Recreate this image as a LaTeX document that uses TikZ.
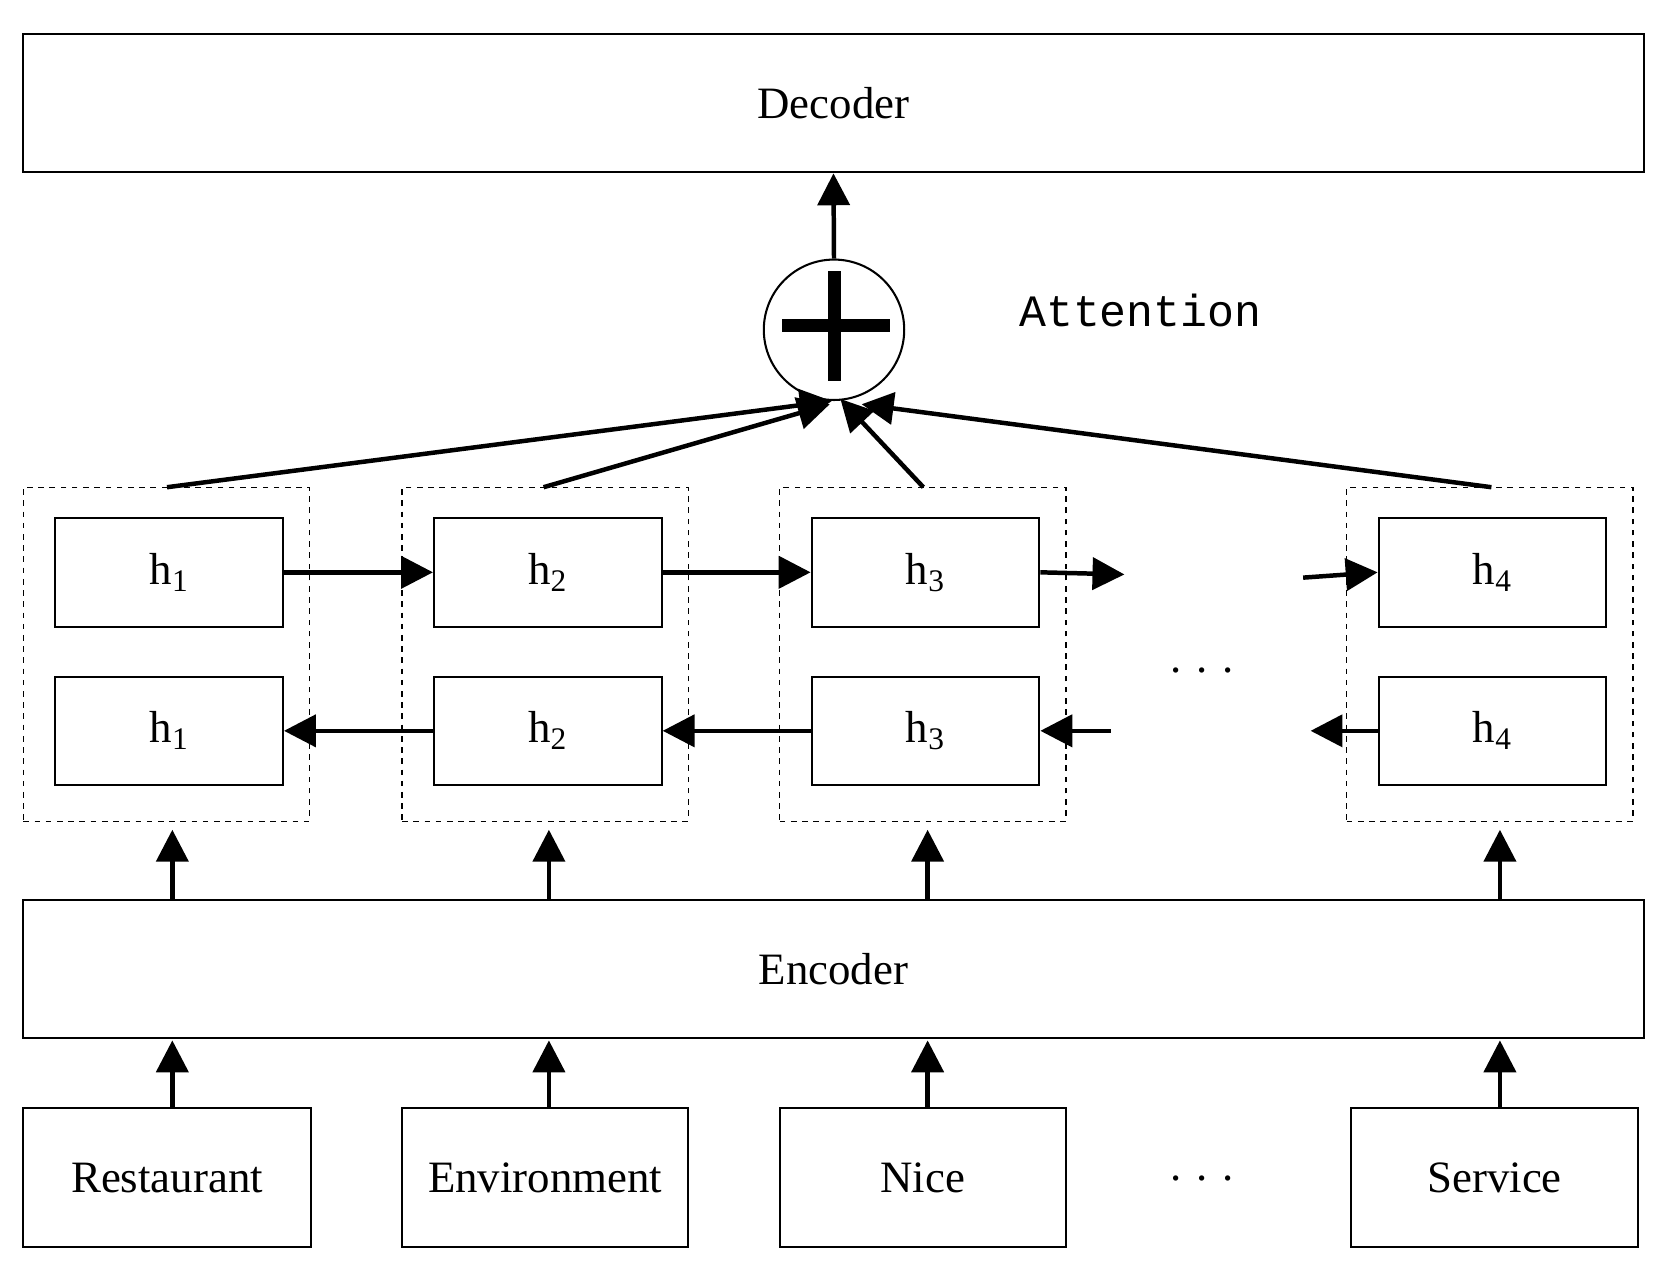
\documentclass[tikz,border=0pt]{standalone}
\usepackage{fontspec}
\setmainfont{Liberation Serif}
\newfontfamily\monofont{Liberation Mono}
\usetikzlibrary{arrows.meta}
\begin{document}
\begin{tikzpicture}[x=0.02cm,y=-0.02cm,
  box/.style={draw,line width=1.1pt,inner sep=0pt},
  grp/.style={draw,dashed,line width=0.7pt},
  arr/.style={line width=2.4pt,-{Triangle[length=0.6cm,width=0.6cm]}},
  ln/.style={line width=2.4pt},
  lab/.style={font=\fontsize{24}{28}\selectfont}]
\useasboundingbox (0,0) rectangle (1568,1200);
\node[box,minimum width=1523*0.02cm,minimum height=130*0.02cm,lab] (dec) at (783.5,97) {Decoder};
\node[box,minimum width=1523*0.02cm,minimum height=130*0.02cm,lab] (enc) at (783.5,911) {Encoder};
\node[draw,circle,line width=1.1pt,minimum size=132*0.02cm] (sum) at (784,310) {};
\fill (735,300) rectangle (837,312);
\fill (778,255) rectangle (791,358);
\node[font=\monofont\fontsize{24}{28}\selectfont] (att) at (1072,292) {Attention};
\draw[arr] (sum.north) -- (dec.south);
% groups
\foreach \n/\x/\s in {1/22/1,2/378/2,3/733/3,4/1266/4}{
  \node[grp,minimum width=269*0.02cm,minimum height=314*0.02cm] (g\n) at (\x+134.5,615) {};
  \node[box,minimum width=214*0.02cm,minimum height=102*0.02cm,lab] (f\n) at (\x+137,538) {h\textsubscript{\s}};
  \node[box,minimum width=214*0.02cm,minimum height=102*0.02cm,lab] (b\n) at (\x+137,687) {h\textsubscript{\s}};
}
\node[box,minimum width=270*0.02cm,minimum height=131*0.02cm,lab] (w1) at (157,1107) {Restaurant};
\node[box,minimum width=269*0.02cm,minimum height=131*0.02cm,lab] (w2) at (512.5,1107) {Environment};
\node[box,minimum width=269*0.02cm,minimum height=131*0.02cm,lab] (w3) at (867.5,1107) {Nice};
\node[box,minimum width=270*0.02cm,minimum height=131*0.02cm,lab] (w4) at (1405,1107) {Service};
\node[lab] (d1) at (1130,630) {. . .};
\node[lab] (d2) at (1130,1108) {. . .};
% horizontal
\draw[arr] (f1.east) -- (f2.west);
\draw[arr] (f2.east) -- (f3.west);
\coordinate (fo) at (1057,540); \coordinate (fi) at (1225,543);
\draw[arr] (f3.east) -- (fo);
\draw[arr] (fi) -- (f4.west);
\draw[arr] (b2.west) -- (b1.east);
\draw[arr] (b3.west) -- (b2.east);
\coordinate (bi) at (1044,687); \coordinate (bo) at (1232,687);
\draw[arr] (bi) -- (b3.east);
\draw[arr] (b4.west) -- (bo);
% to attention
\coordinate (t1) at (157,458); \coordinate (t2) at (511,458);
\coordinate (t3) at (868,458); \coordinate (t4) at (1402,458);
\coordinate (s1) at (782,377); \coordinate (s2) at (780,380);
\coordinate (s3) at (790,375); \coordinate (s4) at (810,380);
\draw[arr] (t1) -- (s1);
\draw[arr] (t2) -- (s2);
\draw[arr] (t3) -- (s3);
\draw[arr] (t4) -- (s4);
% vertical
\foreach \n/\x in {1/162,2/516,3/872,4/1410}{
  \draw[arr] (\x,846) -- (\x,780);
  \draw[arr] (\x,1042) -- (\x,978);
}
\end{tikzpicture}
\end{document}
